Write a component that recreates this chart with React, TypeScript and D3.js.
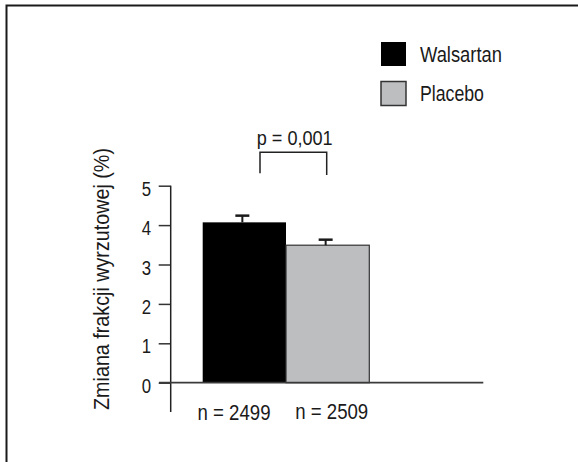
import * as d3 from "d3";
import { useEffect, useRef } from "react";

// dane
const groups = ["Walsartan", "Placebo"];
const means = [4.07, 3.49];
const errors = [0.17, 0.14];
const counts = ["n = 2499", "n = 2509"];
const colors = ["#000000", "#bdbec0"];
const yTicks = [0, 1, 2, 3, 4, 5];
const pLabel = "p = 0,001";
const yLabel = "Zmiana frakcji wyrzutowej (%)";

const FONT = "'Liberation Sans', Arial, sans-serif";

// tekst zwężony do zadanej szerokości (czcionka typu condensed)
const addText = (parent, str, x, y, size, anchor, targetW, rotate = 0) => {
  const t = parent.append("text")
    .attr("text-anchor", anchor)
    .attr("fill", "#1a1a1a")
    .style("font-family", FONT)
    .style("font-size", size + "px")
    .text(str);
  const len = (t.node() as SVGTextElement).getComputedTextLength();
  const k = len > 0 ? targetW / len : 1;
  t.attr("transform", `translate(${x},${y}) rotate(${rotate}) scale(${k},1)`);
  return t;
};

const App = () => {
  const ref = useRef<SVGSVGElement>(null);
  const width = 578;
  const height = 462;

  useEffect(() => {
    const svg = d3.select(ref.current);
    svg.selectAll("*").remove();

    // ramka
    svg.append("rect")
      .attr("x", 6.5).attr("y", 5.5)
      .attr("width", 600).attr("height", 500)
      .attr("fill", "none")
      .attr("stroke", "#1a1a1a")
      .attr("stroke-width", 2);

    const y = d3.scaleLinear().domain([0, 5]).range([382.7, 185.7]);
    const x = d3.scaleBand().domain(groups).range([202.7, 369.3]).paddingInner(0);
    const axisX = 170.7;

    // oś Y
    const yAxis = d3.axisLeft(y).tickValues(yTicks).tickFormat(d3.format("d"))
      .tickSize(12).tickPadding(8).tickSizeOuter(0);
    const g = svg.append("g").attr("transform", `translate(${axisX},0)`).call(yAxis);
    g.select(".domain").remove();
    g.selectAll(".tick line").attr("stroke", "#333").attr("stroke-width", 1.5);
    g.selectAll(".tick text")
      .attr("fill", "#1a1a1a")
      .attr("x", 0)
      .attr("dy", "0.36em")
      .attr("transform", "translate(-19.7,2) scale(0.8,1)")
      .style("font-family", FONT)
      .style("font-size", "21px");

    svg.append("line")
      .attr("x1", axisX).attr("x2", axisX)
      .attr("y1", y(5)).attr("y2", 412)
      .attr("stroke", "#222").attr("stroke-width", 1.5);

    // słupki
    svg.selectAll(".bar")
      .data(groups)
      .enter()
      .append("rect")
      .attr("x", d => x(d)!)
      .attr("y", (d, i) => y(means[i]))
      .attr("width", x.bandwidth())
      .attr("height", (d, i) => y(0) - y(means[i]))
      .attr("fill", (d, i) => colors[i])
      .attr("stroke", (d, i) => (i === 0 ? "none" : "#333"))
      .attr("stroke-width", 1.2);

    // linia zero
    svg.append("line")
      .attr("x1", 159).attr("x2", 483.3)
      .attr("y1", y(0)).attr("y2", y(0))
      .attr("stroke", "#3a3a3a").attr("stroke-width", 1.8);

    // słupki błędów
    const capW = 14;
    groups.forEach((d, i) => {
      const cx = x(d)! + x.bandwidth() / 2 - 2;
      svg.append("line")
        .attr("x1", cx).attr("x2", cx)
        .attr("y1", y(means[i])).attr("y2", y(means[i] + errors[i]))
        .attr("stroke", "#1a1a1a").attr("stroke-width", 2);
      svg.append("line")
        .attr("x1", cx - capW / 2).attr("x2", cx + capW / 2)
        .attr("y1", y(means[i] + errors[i])).attr("y2", y(means[i] + errors[i]))
        .attr("stroke", "#1a1a1a").attr("stroke-width", 2.5);
    });

    // podpisy n
    const countX = [234, 331.7];
    groups.forEach((d, i) => {
      addText(svg, counts[i], countX[i], 420 - i, 22, "middle", 73);
    });

    // nawias istotności
    svg.append("path")
      .attr("d", "M260,173.3 V152.3 H326.7 V175")
      .attr("fill", "none")
      .attr("stroke", "#222").attr("stroke-width", 1.5);
    addText(svg, pLabel, 294.7, 145, 20, "middle", 76);

    // etykieta osi Y
    addText(svg, yLabel, 108.5, 279, 21.5, "middle", 262, -90);

    // legenda
    const legW = [82, 64];
    groups.forEach((d, i) => {
      svg.append("rect")
        .attr("x", 381).attr("y", 42 + i * 39.5)
        .attr("width", 25).attr("height", 24)
        .attr("fill", colors[i])
        .attr("stroke", "#333")
        .attr("stroke-width", i === 0 ? 0 : 1.5);
      addText(svg, d, 420, 61.7 + i * 38.8, 22.5, "start", legW[i]);
    });
  }, []);

  return (
    <div style={{ position: "fixed", left: 0, top: 0 }}>
      <svg ref={ref} width={width} height={height} style={{ display: "block", background: "#fff" }}></svg>
    </div>
  );
};

export default App;
